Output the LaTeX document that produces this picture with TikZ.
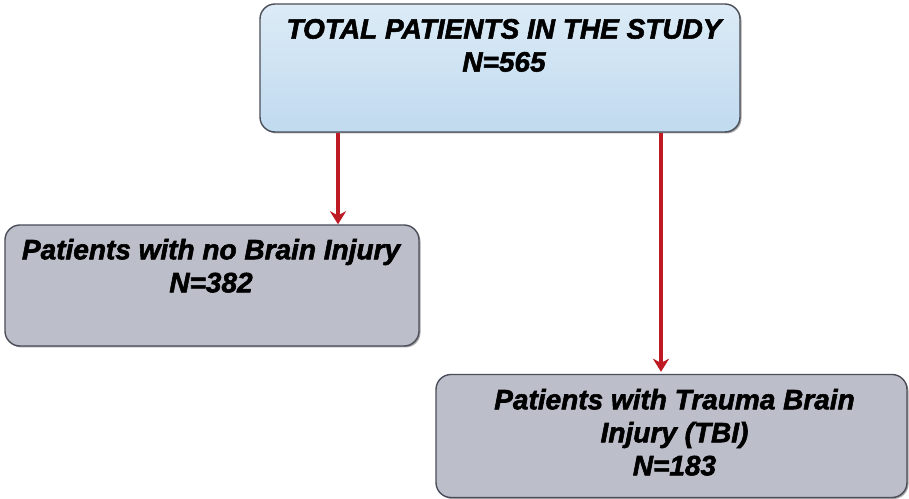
\documentclass[tikz,border=0pt]{standalone}
\usepackage{fontspec}
\setmainfont[FakeBold=2]{Liberation Sans}
\usetikzlibrary{arrows.meta,calc,shadows}
\definecolor{boxblueT}{RGB}{220,235,246}
\definecolor{boxblueB}{RGB}{192,218,239}
\definecolor{boxgray}{RGB}{188,190,201}
\definecolor{boxline}{RGB}{75,78,88}
\definecolor{arrred}{RGB}{190,26,36}
\tikzset{
  boxbase/.style={draw=boxline, line width=1.4pt, rounded corners=15bp,
    inner sep=0pt, drop shadow={shadow xshift=1.5pt, shadow yshift=-1.5pt, opacity=0.35, fill=black}},
  bluebox/.style={boxbase, top color=boxblueT, bottom color=boxblueB},
  graybox/.style={boxbase, fill=boxgray},
  boxtext/.style={anchor=north, inner sep=0pt, align=center,
    font=\fontsize{28bp}{33bp}\selectfont\bfseries\itshape, text=black},
  arr/.style={draw=arrred, line width=3.6pt, -{Stealth[length=13bp,width=16bp,inset=4bp]}}
}
\begin{document}
\begin{tikzpicture}[x=1bp,y=-1bp]
\useasboundingbox (0,0) rectangle (909,499);
\fill[white] (0,0) rectangle (909,499);
% boxes
\node[bluebox, minimum width=480bp, minimum height=128bp] (t) at (500,68) {};
\node[graybox, minimum width=414bp, minimum height=121bp] (l) at (212,285.5) {};
\node[graybox, minimum width=471bp, minimum height=123bp] (r) at (671.5,436) {};
% texts
\node[boxtext] (tt) at ($(t.north)+(4,15.5)$) {TOTAL PATIENTS IN THE STUDY\\N=565};
\node[boxtext] (lt) at ($(l.north)+(-1,14.5)$) {Patients with no Brain Injury\\N=382};
\node[boxtext] (rt) at ($(r.north)+(3,15)$) {Patients with Trauma Brain\\Injury (TBI)\\N=183};
% arrows
\draw[arr] (t.south -| 338,0) -- (l.north -| 338,0);
\draw[arr] (t.south -| 661,0) -- ($(r.north -| 661,0)+(0,-2)$);
\end{tikzpicture}
\end{document}
